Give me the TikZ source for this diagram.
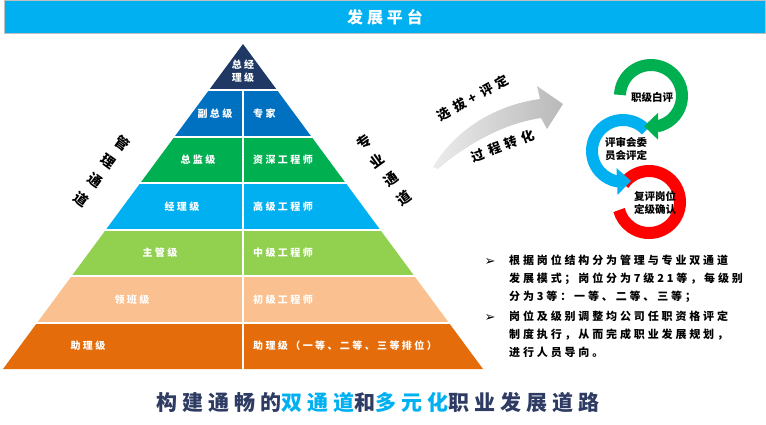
\documentclass[tikz,border=0pt]{standalone}
\usepackage{fontspec}
\usepackage{xcolor}
\usetikzlibrary{arrows.meta, bending, positioning}

\newfontfamily\cjk{Noto Sans CJK SC}
\newfontfamily\cjkwide[LetterSpace=24]{Noto Sans CJK SC}
\newfontfamily\cjkslope[LetterSpace=38]{Noto Sans CJK SC}
\newfontfamily\cjknote[LetterSpace=26]{Noto Sans CJK SC}
\newfontfamily\symfont{DejaVu Sans}

\definecolor{banner}{HTML}{00B0F0}
\definecolor{tierA}{HTML}{1F3864}
\definecolor{tierB}{HTML}{0070C0}
\definecolor{tierC}{HTML}{00B050}
\definecolor{tierD}{HTML}{00B0F0}
\definecolor{tierE}{HTML}{92D050}
\definecolor{tierF}{HTML}{FAC090}
\definecolor{tierG}{HTML}{E46C0A}
\definecolor{ringgreen}{HTML}{00B050}
\definecolor{ringblue}{HTML}{00B0F0}
\definecolor{ringred}{HTML}{FF0000}
\definecolor{navy}{HTML}{2E3B63}

\begin{document}
\begin{tikzpicture}[x=1pt, y=1pt,
    lvl/.style = {font=\cjkwide\bfseries\fontsize{10}{13}\selectfont, text=white, inner sep=0pt, align=center},
    side/.style = {font=\cjk\bfseries\fontsize{14}{23}\selectfont, align=center, inner sep=0pt},
    slope/.style = {font=\cjkslope\bfseries\fontsize{13}{15}\selectfont, inner sep=0pt},
    ring/.style = {line width=12pt},
    ringtip/.style = {-{Triangle[width=26pt, length=14pt, flex]}},
    ringtext/.style = {font=\cjk\bfseries\fontsize{10.5}{13}\selectfont, align=center, inner sep=0pt},
    note/.style = {font=\cjknote\bfseries\fontsize{11}{18}\selectfont, align=left, inner sep=0pt, anchor=north west},
    bullet/.style = {font=\symfont\fontsize{13}{14}\selectfont, inner sep=0pt}
]
\useasboundingbox (0,0) rectangle (766,-424);

% Banner at the top
\draw[draw=gray!50, fill=banner] (4,0) rectangle (765,-33);
\node[font=\cjkwide\bfseries\fontsize{16}{18}\selectfont, text=white] (head) at (385,-17) {发展平台};

% Apex of the pyramid
\fill[tierA] (243,-44) -- (277.3,-90.43) -- (208.7,-90.43) -- cycle;
\node[lvl] (lvl0) at (243,-71) {总经\\理级};

% Tiers of the pyramid, left and right labels
\foreach \k/\col/\lx/\ltxt/\rtxt in {1/tierB/215/副总级/专家, 2/tierC/198/总监级/资深工程师, 3/tierD/182/经理级/高级工程师, 4/tierE/160/主管级/中级工程师, 5/tierF/132/领班级/初级工程师, 6/tierG/88/助理级/助理级（一等、二等、三等排位）}{
  \pgfmathsetmacro\yt{44+46.43*\k}
  \pgfmathsetmacro\yb{\yt+46.43}
  \pgfmathsetmacro\wt{0.7385*(\yt-44)}
  \pgfmathsetmacro\wb{0.7385*(\yb-44)}
  \pgfmathsetmacro\ym{(\yt+\yb)/2}
  \fill[\col] (243-\wt,-\yt) -- (243+\wt,-\yt) -- (243+\wb,-\yb) -- (243-\wb,-\yb) -- cycle;
  \node[lvl] (left\k) at (\lx,-\ym) {\ltxt};
  \node[lvl, anchor=west] (right\k) at (253,-\ym) {\rtxt};
}

% White gaps between the tiers
\foreach \k in {1,...,6}{
  \pgfmathsetmacro\yt{44+46.43*\k}
  \pgfmathsetmacro\wt{0.7385*(\yt-44)+3}
  \draw[white, line width=2pt] (243-\wt,-\yt) -- (243+\wt,-\yt);
}
\draw[white, line width=2pt] (243,-90.43) -- (243,-370);

% Channel labels along the slopes
\node[side, rotate=-36] (mgmt) at (102,-171) {管\\理\\通\\道};
\node[side, rotate=36] (prof) at (384,-170) {专\\业\\通\\道};

% Grey curved arrow
\shade[left color=gray!15, right color=gray!55] (433,-167) .. controls (455,-130) and (495,-105) .. (540,-99)
  -- (537,-86) -- (563,-104) -- (547,-129) -- (541,-118)
  .. controls (500,-124) and (462,-148) .. (438,-169) -- cycle;
\node[slope, rotate=29] (select) at (473,-98) {选拔+评定};
\node[slope, rotate=20] (convert) at (503,-146) {过程转化};

% Cycle of three rings
\coordinate (G) at (651,-96);
\coordinate (B) at (623,-151);
\coordinate (R) at (649,-202);
\draw[ring, ringred] (R) ++(145:31) arc[start angle=145, end angle=-165, radius=31];
\draw[ring, ringblue, ringtip] (B) ++(42:31) arc[start angle=42, end angle=285, radius=31];
\draw[ring, ringgreen, ringtip] (G) ++(178:31) arc[start angle=178, end angle=-103, radius=31];
\node[ringtext] (self) at (652,-97) {职级白评};
\node[ringtext] (board) at (626,-149) {评审会委\\员会评定};
\node[ringtext] (review) at (655,-203) {复评岗位\\定级确认};

% Notes on the right
\node[bullet] (b1) at (490,-262) {➢};
\node[note] (n1) at (509,-255) {根据岗位结构分为管理与专业双通道\\发展模式；岗位分为7级21等，每级别\\分为3等：一等、二等、三等；};
\node[bullet] (b2) at (490,-318) {➢};
\node[note] (n2) at (509,-311) {岗位及级别调整均公司任职资格评定\\制度执行，从而完成职业发展规划，\\进行人员导向。};

% Slogan at the bottom
\node[font=\cjkwide\bfseries\fontsize{21}{24}\selectfont, text=navy] (slogan) at (378,-403)
  {构建通畅的\textcolor{ringblue}{双通道}和\textcolor{ringblue}{多元化}职业发展道路};

\end{tikzpicture}
\end{document}
